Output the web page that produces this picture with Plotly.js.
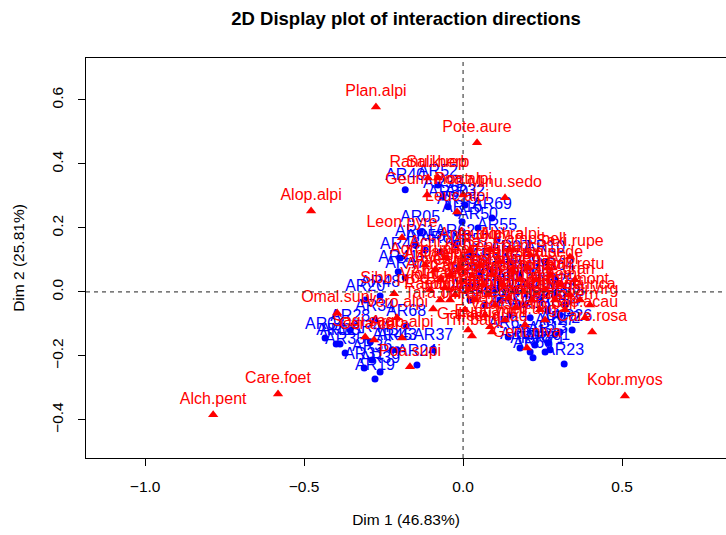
<!DOCTYPE html>
<html>
<head>
<meta charset="utf-8">
<script src="https://cdn.plot.ly/plotly-3.0.1.min.js"></script>
<style>html,body{margin:0;padding:0;background:#fff;}#chart{width:726px;height:535px;}</style>
</head>
<body>
<div id="chart"></div>
<script>
// Row points (sites) - blue
const siteLabels = ["AR40","AR52","AR33","AR30","AR32","AR15","AR69","AR16","AR55","AR50",
  "AR41","AR47","AR20","AR48","AR68","AR34","AR04","AR03","AR45","AR37",
  "AR24","AR36","AR19","AR39","AR35","AR31","AR43","AR44","AR28","AR61",
  "AR58","AR60","AR62","AR57","AR46","AR06","AR07","AR08","AR09","AR10",
  "AR11","AR14","AR17","AR22","AR25","AR29","AR38","AR42","AR49","AR51",
  "AR53","AR54","AR56","AR59","AR63","AR64","AR65","AR26","AR27","AR13",
  "AR12","AR21","AR01","AR23","AR66","AR67","AR70","AR71","AR72","AR05","AR02"];
const siteDim1 = [-0.182,-0.079,-0.063,-0.047,0.006,-0.019,0.091,-0.003,0.107,0.047,
  -0.204,-0.182,-0.308,-0.261,-0.179,-0.277,-0.434,-0.387,-0.223,-0.094,
  -0.145,-0.286,-0.277,-0.261,-0.371,-0.311,-0.208,-0.292,-0.355,-0.151,
  -0.119,-0.072,-0.025,0.022,-0.198,0.211,0.148,0.085,0.179,0.258,
  0.116,0.164,0.022,0.242,0.289,0.116,0.195,0.267,0.069,0.148,
  0.211,0.305,0.022,0.101,0.053,0.289,0.321,0.343,0.289,0.267,
  0.226,0.179,0.274,0.318,0.220,0.142,0.211,0.258,0.305,-0.135,-0.399];
const siteDim2 = [0.319,0.334,0.297,0.266,0.272,0.247,0.231,0.219,0.163,0.200,
  0.063,0.044,-0.025,-0.013,-0.106,-0.088,-0.144,-0.163,-0.181,-0.178,
  -0.228,-0.213,-0.272,-0.250,-0.191,-0.238,-0.181,-0.156,-0.119,0.147,
  0.131,0.125,0.147,0.116,0.106,0.019,0.094,0.069,0.053,0.094,
  0.031,0.006,-0.025,-0.025,-0.009,-0.025,-0.041,-0.056,-0.041,-0.072,
  -0.081,-0.072,0.022,0.006,0.053,0.038,-0.041,-0.119,-0.134,-0.159,
  -0.166,-0.175,-0.181,-0.225,-0.206,-0.141,-0.188,-0.188,-0.125,0.188,-0.163];

// Column points (species) - red
const speciesLabels = ["Plan.alpi","Pote.aure","Alop.alpi","Alch.pent","Care.foet","Kobr.myos","Care.rosa","Omal.supi","Poa.supi","Ranu.kuep",
  "Sali.herb","Geum.mont","Poa.alpi","Minu.sedo","Leuc.alpi","Leon.pyre","Sibb.proc","Tara.offi","Vero.alpi","Sagi.sagi",
  "Cera.cera","Arab.alpi","Camp.bell","Saxi.rupe","Saxi.sede","Fest.quad","Gali.anis","Trif.badi","Gent.niva","Euph.mini",
  "Agro.rupe","Anth.alpi","Anth.odor","Arni.mont","Aven.vers","Bart.alpi","Camp.sche","Card.alpi","Care.curv","Care.semp",
  "Cirs.spin","Crep.aure","Desc.flex","Fest.hall","Fest.rubr","Gent.koch","Gent.punc","Hier.pilo","Homo.alpi","Junc.trif",
  "Leon.hisp","Ligu.mute","Lotu.alpi","Luzu.alpi","Luzu.lute","Nard.stri","Phle.alpi","Phyt.hemi","Poa.viol","Poly.vivi",
  "Pote.gran","Puls.vern","Ranu.mont","Sali.retu","Sene.inca","Sile.acau","Soli.virg","Sold.alpi","Trif.alpi","Trif.prat",
  "Vacc.myrt","Vacc.ulig","Vero.bell","Viol.calc","Achi.nana","Ante.dioi","Ajug.pyra","Alch.alpi","Ranu.glac"];
const speciesDim1 = [-0.274,0.044,-0.478,-0.786,-0.582,0.509,0.406,-0.396,-0.167,-0.110,
  -0.079,-0.113,0.000,0.132,-0.019,-0.192,-0.217,-0.094,-0.208,-0.308,
  -0.280,-0.192,0.211,0.336,0.267,0.091,0.016,0.028,0.201,0.085,
  -0.119,-0.088,-0.072,-0.057,-0.041,-0.025,-0.009,-0.003,0.016,0.028,
  0.038,0.053,0.063,0.079,0.091,0.101,0.116,0.126,0.142,0.154,
  0.164,0.179,0.192,0.204,0.217,0.230,0.242,0.258,0.274,0.289,
  0.305,0.321,0.336,0.352,0.368,0.384,0.399,-0.041,0.006,0.069,
  0.132,0.195,0.258,-0.104,-0.057,0.022,0.085,0.148,-0.072];
const speciesDim2 = [0.578,0.466,0.253,-0.384,-0.319,-0.325,-0.125,-0.066,-0.234,0.356,
  0.356,0.303,0.303,0.294,0.250,0.169,-0.006,-0.053,-0.081,-0.141,
  -0.150,-0.144,0.116,0.109,0.075,-0.125,-0.119,-0.138,-0.175,-0.109,
  0.084,0.069,0.038,0.013,0.053,-0.009,0.075,0.031,0.006,0.050,
  -0.025,0.084,0.022,-0.009,0.053,-0.041,0.094,0.022,-0.019,0.069,
  -0.050,0.038,0.000,0.075,-0.025,0.038,-0.056,0.006,0.053,-0.025,
  0.022,-0.056,-0.009,0.038,-0.025,-0.081,-0.041,-0.025,-0.056,-0.072,
  -0.088,-0.103,-0.088,0.006,0.106,0.131,0.131,0.131,-0.025];

const xTickVals = [-1.0, -0.5, 0.0, 0.5];
const xTickText = ["\u22121.0", "\u22120.5", "0.0", "0.5"];
const yTickVals = [-0.4, -0.2, 0.0, 0.2, 0.4, 0.6];
const yTickText = ["\u22120.4", "\u22120.2", "0.0", "0.2", "0.4", "0.6"];

const FONT = "Liberation Sans, Arial, Helvetica, sans-serif";

const traces = [
  {
    type: "scatter", mode: "markers+text",
    x: siteDim1, y: siteDim2, text: siteLabels,
    textposition: "top center",
    textfont: {family: FONT, size: 16, color: "#0000FF"},
    marker: {symbol: "circle", size: 7, color: "#0000FF"},
    hoverinfo: "text", cliponaxis: false
  },
  {
    type: "scatter", mode: "markers+text",
    x: speciesDim1, y: speciesDim2, text: speciesLabels,
    textposition: "top center",
    textfont: {family: FONT, size: 16, color: "#FF0000"},
    marker: {symbol: "triangle-up", size: 9, color: "#FF0000"},
    hoverinfo: "text", cliponaxis: false
  }
];

const layout = {
  width: 726, height: 535,
  margin: {l: 86, r: 0, t: 58, b: 77},
  paper_bgcolor: "#ffffff", plot_bgcolor: "#ffffff",
  showlegend: false,
  font: {family: FONT, size: 15, color: "#000"},
  title: {text: "<b>2D Display plot of interaction directions</b>", x: 0.5, xref: "paper", xanchor: "center", y: 0.965, yanchor: "middle",
          font: {family: FONT, size: 18.5, color: "#000"}},
  xaxis: {
    range: [-1.186, 0.827], tickvals: xTickVals, ticktext: xTickText,
    ticks: "outside", ticklen: 7, tickcolor: "#000", tickwidth: 1, ticklabelstandoff: 7,
    showgrid: false, zeroline: false, showline: true, linecolor: "#000", linewidth: 1, mirror: true,
    tickfont: {family: FONT, size: 15.5, color: "#000"},
    title: {text: "Dim 1 (46.83%)", font: {family: FONT, size: 15.5, color: "#000"}, standoff: 20}
  },
  yaxis: {
    range: [-0.519, 0.731], tickvals: yTickVals, ticktext: yTickText, tickangle: -90,
    ticks: "outside", ticklen: 7, tickcolor: "#000", tickwidth: 1, ticklabelstandoff: 9,
    showgrid: false, zeroline: false, showline: true, linecolor: "#000", linewidth: 1, mirror: false,
    tickfont: {family: FONT, size: 15.5, color: "#000"},
    title: {text: "Dim 2 (25.81%)", font: {family: FONT, size: 15.5, color: "#000"}, standoff: 20}
  },
  shapes: [
    {type: "line", xref: "x", yref: "paper", x0: 0, x1: 0, y0: 0, y1: 1, line: {color: "#222", width: 1, dash: "4px,4px"}},
    {type: "line", xref: "paper", yref: "y", x0: 0, x1: 1, y0: 0, y1: 0, line: {color: "#222", width: 1, dash: "4px,4px"}}
  ]
};

Plotly.newPlot("chart", traces, layout, {displayModeBar: false, staticPlot: true});
</script>
</body>
</html>
